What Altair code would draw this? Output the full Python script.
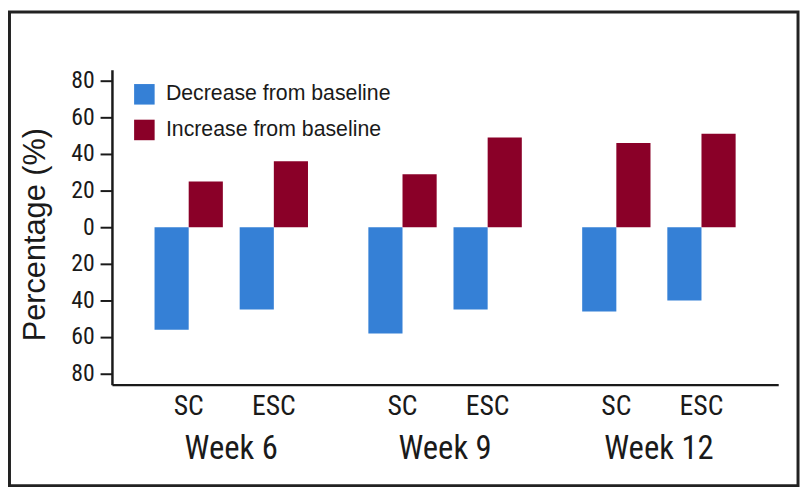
import altair as alt
import pandas as pd

weeks = ["Week 6", "Week 9", "Week 12"]
treatments = ["SC", "ESC"]
# percentage of patients per week / treatment (SC, ESC order)
decrease = [[56, 45], [58, 45], [46, 40]]
increase = [[25, 36], [29, 49], [46, 51]]
directions = ["Decrease from baseline", "Increase from baseline"]
colors = ["#3580d6", "#8a0028"]
y_ticks = [-80, -60, -40, -20, 0, 20, 40, 60, 80]

rows = []
for wi, w in enumerate(weeks):
    for ti, t in enumerate(treatments):
        rows.append({"week": w, "treatment": t, "direction": directions[0], "value": -decrease[wi][ti]})
        rows.append({"week": w, "treatment": t, "direction": directions[1], "value": increase[wi][ti]})
df = pd.DataFrame(rows)

COND = "Liberation Sans Narrow, Roboto Condensed, Liberation Sans"
SANS = "Liberation Sans, Arial, Helvetica"
INK = "#1a1a1a"

x_enc = alt.X(
    "week:N",
    sort=weeks,
    scale=alt.Scale(paddingInner=0, paddingOuter=0.058),
    axis=alt.Axis(
        title=None, ticks=False, tickSize=0, labelAngle=0,
        labelFont=COND, labelFontSize=33, labelColor=INK,
        labelBaseline="alphabetic", labelPadding=75,
        domainColor=INK, domainWidth=2.5,
    ),
)
y_enc = alt.Y(
    "value:Q",
    scale=alt.Scale(domain=[-86, 86], nice=False, zero=False),
    axis=alt.Axis(
        title="Percentage (%)", values=y_ticks, labelExpr="abs(datum.value)",
        grid=False, tickSize=12, tickWidth=2, tickColor=INK,
        labelFont=COND, labelFontSize=24, labelColor=INK, labelPadding=6,
        domainColor=INK, domainWidth=2.5,
        titleFont=SANS, titleFontSize=31, titleFontWeight="normal", titleColor=INK,
        titleAngle=270, titleBaseline="middle", titleAlign="center",
        titleX=-77, titleY=166,
    ),
)
c_enc = alt.Color(
    "direction:N",
    scale=alt.Scale(domain=directions, range=colors),
    legend=alt.Legend(
        title=None, orient="none", legendX=22, legendY=14, padding=0,
        symbolType="square", symbolSize=430, symbolStrokeWidth=0, symbolOpacity=1,
        labelFont=SANS, labelFontSize=21.5, labelColor=INK, labelOffset=11,
        labelLimit=500, rowPadding=13,
    ),
)

base = alt.Chart(df).encode(x=x_enc, y=y_enc, color=c_enc)

offsets = {("SC", 0): -60.25, ("SC", 1): -25.75, ("ESC", 0): 25.75, ("ESC", 1): 60.25}
layers = []
for (t, di), off in offsets.items():
    layers.append(
        base.transform_filter(
            (alt.datum.treatment == t) & (alt.datum.direction == directions[di])
        ).mark_bar(width=34.5, xOffset=off, opacity=1)
    )

lab_df = df[df["direction"] == directions[0]]
for t, off in [("SC", -43), ("ESC", 43)]:
    layers.append(
        alt.Chart(lab_df).transform_filter(alt.datum.treatment == t).mark_text(
            xOffset=off, baseline="alphabetic", align="center",
            font=COND, fontSize=28, color=INK,
        ).encode(x=alt.X("week:N", sort=weeks), y=alt.value(349), text="treatment:N")
    )

frame = alt.Chart(pd.DataFrame({"k": [0]})).mark_rect(
    fillOpacity=0, stroke="#222222", strokeWidth=3, clip=False
).encode(x=alt.value(-103.5), x2=alt.value(693), y=alt.value(-58.5), y2=alt.value(420))
layers.append(frame)

chart = alt.layer(*layers).properties(
    width=673, height=318, autosize="none",
    padding={"left": 105, "top": 60, "right": 22, "bottom": 104},
).configure_view(stroke=None)

chart.save("out.html", embed_options={"renderer": "svg", "actions": False})
